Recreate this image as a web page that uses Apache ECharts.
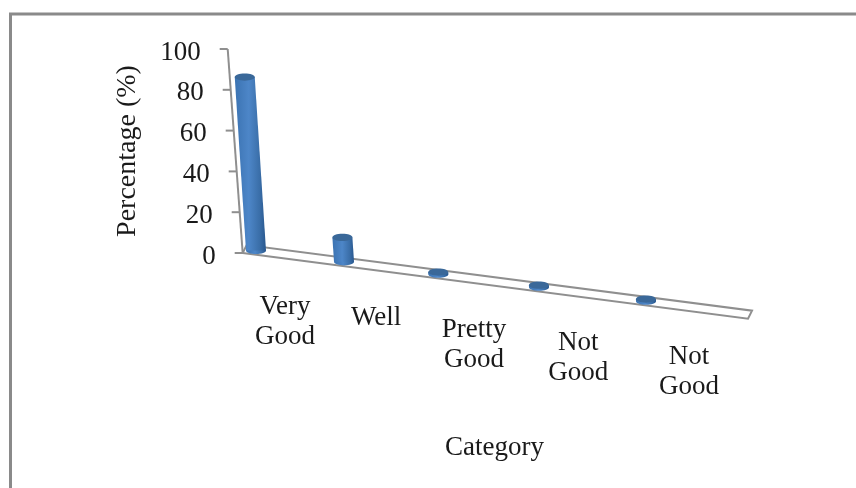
<!DOCTYPE html>
<html>
<head>
<meta charset="utf-8">
<style>html,body{margin:0;padding:0;background:#fff}#c{width:856px;height:488px}</style>
<script src="https://cdn.jsdelivr.net/npm/echarts@6/dist/echarts.min.js"></script>
</head>
<body>
<div id="c"></div>
<script>
const categories = ['Very\nGood', 'Well', 'Pretty\nGood', 'Not\nGood', 'Not\nGood'];
const percentages = [85, 12, 1, 1, 1];
const yTicks = [0, 20, 40, 60, 80, 100];
const floorSpan = [-0.134, 4.92];

const FONT = '"Liberation Serif", serif';
const TEXT = '#1a1a1a';
const AXIS = '#8f8f8f';

// Oblique view: the floor runs downhill to the right and widens with distance,
// verticals lean slightly left. Takes grid pixels, returns screen pixels.
const BASE_Y = 253, ORIGIN_X = 243, BEND_X0 = 254, BEND_X1 = 644;
function project(px, py, lean) {
  const fx = px + 3.33e-4 * (px - BEND_X0) * (px - BEND_X1);
  return [fx - (lean === undefined ? 0.0735 : lean) * (BASE_Y - py), py + 0.13 * (fx - ORIGIN_X)];
}
// Depth 0 is the front edge of the floor, depth 1 the back edge.
function withDepth(p, d) { return [p[0] + 4 * d, p[1] - 8 * d]; }

function cylinderEllipse(c, fill) {
  return { type: 'ellipse', shape: { cx: c[0], cy: c[1], rx: 10, ry: 3.6 }, style: { fill: fill } };
}

function renderFloor(params, api) {
  const a = api.coord([0, 0]), step = api.coord([1, 0])[0] - a[0];
  const l = project(a[0] + floorSpan[0] * step, a[1]);
  const r = project(a[0] + floorSpan[1] * step, a[1]);
  return {
    type: 'polygon',
    shape: { points: [l, r, withDepth(r, 1), withDepth(l, 1)] },
    style: { fill: '#fff', stroke: AXIS, lineWidth: 2 }
  };
}

function renderYTick(params, api) {
  const v = api.value(0);
  const a = api.coord([0, v]), step = api.coord([1, 0])[0] - api.coord([0, 0])[0];
  const raw = [a[0] + floorSpan[0] * step, a[1]];
  const x = project(raw[0], raw[1])[0], y = a[1];
  const children = [
    { type: 'line', shape: { x1: x - 8, y1: y, x2: x, y2: y }, style: { stroke: AXIS, lineWidth: 2 } },
    { type: 'text', style: { text: String(v), x: x - 27, y: y + 3.5, align: 'right', verticalAlign: 'middle',
        font: '27px ' + FONT, fill: TEXT } }
  ];
  if (params.dataIndex === yTicks.length - 1) {
    const low = api.coord([0, 0]);
    const bx = project(raw[0], low[1])[0];
    children.push({ type: 'line', shape: { x1: x, y1: y, x2: bx, y2: low[1] }, style: { stroke: AXIS, lineWidth: 2 } });
  }
  return { type: 'group', children: children };
}

function renderBar(params, api) {
  const i = api.value(0), v = api.value(1);
  const base = api.coord([i, 0]), top = api.coord([i, v]);
  const b = withDepth(project(base[0], base[1], 0.065), 0.5);
  const t = withDepth(project(top[0], top[1], 0.065), 0.5);
  const body = new echarts.graphic.LinearGradient(0, 0, 1, 0, [
    { offset: 0, color: '#3b73b2' },
    { offset: 0.45, color: '#4d86c8' },
    { offset: 0.8, color: '#3a6ea8' },
    { offset: 1, color: '#28578e' }
  ]);
  return {
    type: 'group',
    children: [
      cylinderEllipse(b, body),
      { type: 'polygon', shape: { points: [[b[0] - 10, b[1]], [b[0] + 10, b[1]], [t[0] + 10, t[1]], [t[0] - 10, t[1]]] }, style: { fill: body } },
      cylinderEllipse(t, '#3a6899')
    ]
  };
}

function renderCategory(params, api) {
  const i = api.value(0);
  const base = api.coord([i, 0]);
  const f = project(base[0], base[1]);
  const x = f[0] + 2;
  return {
    type: 'text',
    style: {
      text: categories[i],
      x: x + 29 + 0.036 * (x - 256),
      y: f[1] + 37,
      align: 'center', verticalAlign: 'top',
      font: '27px ' + FONT, lineHeight: 30, fill: TEXT
    }
  };
}

const indices = categories.map((_, i) => i);

const chart = echarts.init(document.getElementById('c'), null, { renderer: 'canvas' });
chart.setOption({
  animation: false,
  backgroundColor: '#fff',
  grid: { left: 254, right: 212, top: 49, bottom: 235 },
  xAxis: { type: 'category', data: categories, boundaryGap: false, show: false },
  yAxis: {
    type: 'value', min: 0, max: 100, interval: 20,
    name: 'Percentage (%)', nameLocation: 'middle', nameGap: 112, nameRotate: 90,
    nameTextStyle: { fontFamily: FONT, fontSize: 28, color: TEXT },
    axisLine: { show: false }, axisTick: { show: false }, axisLabel: { show: false }, splitLine: { show: false }
  },
  graphic: [
    { type: 'polyline', shape: { points: [[856, 14], [10.5, 14], [10.5, 488]] }, style: { stroke: '#8a8a8a', lineWidth: 3, fill: 'none' }, silent: true },
    { type: 'text', left: 445, top: 434, style: { text: 'Category', font: '27px ' + FONT, fill: TEXT } }
  ],
  series: [
    { type: 'custom', name: 'floor', coordinateSystem: 'cartesian2d', data: [[0, 0]], renderItem: renderFloor, silent: true, z: 1 },
    { type: 'custom', name: 'ticks', coordinateSystem: 'cartesian2d', data: yTicks.map(v => [v]), encode: { y: 0 }, renderItem: renderYTick, silent: true, z: 2 },
    { type: 'custom', name: 'Percentage', coordinateSystem: 'cartesian2d', data: percentages.map((v, i) => [i, v]), renderItem: renderBar, z: 3 },
    { type: 'custom', name: 'labels', coordinateSystem: 'cartesian2d', data: indices.map(i => [i]), encode: { x: 0 }, renderItem: renderCategory, silent: true, z: 4 }
  ]
});
</script>
</body>
</html>
